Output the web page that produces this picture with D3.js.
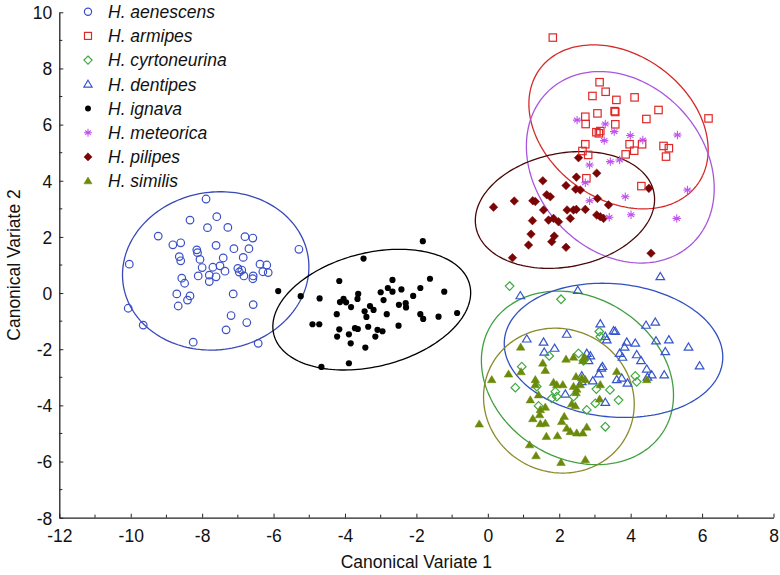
<!DOCTYPE html>
<html><head><meta charset="utf-8">
<script src="https://cdn.jsdelivr.net/npm/d3@7"></script>
<style>body{margin:0;background:#fff}svg{display:block}text{font-family:"Liberation Sans",Arial,sans-serif}</style>
</head><body><svg id="c" width="780" height="575"></svg>
<script>
const species = ["H. aenescens","H. armipes","H. cyrtoneurina","H. dentipes","H. ignava","H. meteorica","H. pilipes","H. similis"];
const xTicks = [-12,-10,-8,-6,-4,-2,0,2,4,6,8];
const yTicks = [-8,-6,-4,-2,0,2,4,6,8,10];
const xTitle = "Canonical Variate 1";
const yTitle = "Canonical Variate 2";

const aenescens = [[-7.89,3.35],[-7.59,2.72],[-8.34,2.60],[-7.85,2.33],[-7.28,2.34],[-9.23,2.03],[-8.82,1.72],[-8.60,1.79],[-6.80,2.01],[-6.58,1.96],[-7.61,1.70],[-7.11,1.58],[-6.69,1.58],[-5.29,1.56],[-8.15,1.54],[-8.13,1.44],[-8.64,1.30],[-8.60,1.15],[-8.06,1.20],[-7.41,1.25],[-6.85,1.27],[-10.04,1.03],[-7.50,0.97],[-6.38,1.03],[-6.19,1.00],[-6.15,0.73],[-6.30,0.76],[-8.00,0.91],[-7.70,0.92],[-7.00,0.88],[-6.89,0.82],[-6.96,0.75],[-7.36,0.78],[-7.80,0.64],[-7.61,0.58],[-7.80,0.41],[-8.11,0.61],[-6.83,0.61],[-6.57,0.61],[-6.58,0.51],[-8.57,0.53],[-8.49,0.35],[-8.71,-0.03],[-8.34,-0.10],[-8.41,-0.25],[-8.67,-0.46],[-7.13,-0.03],[-6.57,-0.41],[-10.07,-0.54],[-7.19,-0.80],[-6.75,-1.05],[-9.65,-1.14],[-7.33,-1.31],[-8.25,-1.75],[-6.43,-1.79]];
const armipes = [[1.82,9.10],[3.13,7.51],[3.30,7.17],[2.93,7.02],[3.60,6.88],[4.11,6.97],[4.78,6.52],[3.55,6.48],[3.57,6.45],[3.07,6.40],[4.44,6.20],[6.18,6.22],[2.73,6.28],[2.74,6.02],[3.57,6.01],[3.04,5.73],[3.15,5.77],[3.11,5.69],[2.73,5.30],[3.97,5.30],[4.32,5.30],[4.10,5.07],[3.86,4.94],[4.92,5.24],[5.07,5.16],[4.99,4.86],[2.65,5.06],[2.81,4.92],[2.76,4.09],[4.30,3.81]];
const cyrtoneurina = [[0.61,0.25],[2.05,-0.22],[3.12,-1.37],[3.15,-1.55],[1.72,-2.24],[2.54,-2.15],[2.68,-2.41],[0.95,-2.62],[0.77,-3.37],[1.37,-3.33],[4.13,-2.95],[4.17,-3.16],[3.04,-3.42],[3.42,-3.45],[3.66,-3.81],[1.89,-3.51],[1.79,-3.75],[1.93,-3.69],[2.40,-3.69],[3.01,-3.93],[1.42,-4.02],[2.77,-4.16],[3.29,-4.76]];
const dentipes = [[4.83,0.58],[0.91,-0.10],[2.52,0.09],[3.15,-1.10],[3.52,-1.35],[3.57,-1.37],[4.43,-1.15],[4.69,-1.04],[3.29,-1.55],[3.33,-1.67],[2.21,-1.47],[1.09,-1.64],[1.56,-1.75],[1.87,-1.97],[1.58,-2.11],[3.89,-1.75],[4.13,-1.79],[3.83,-1.93],[3.77,-2.29],[4.71,-1.71],[5.07,-1.67],[4.97,-2.09],[5.62,-1.93],[5.93,-2.60],[3.69,-2.15],[4.17,-2.20],[4.29,-2.41],[2.77,-2.15],[2.87,-2.24],[2.82,-2.41],[3.18,-2.68],[3.21,-2.62],[3.11,-2.88],[2.63,-2.95],[2.94,-3.13],[2.63,-3.16],[3.61,-3.09],[3.75,-3.03],[3.91,-3.21],[4.45,-2.71],[4.59,-2.92],[4.47,-3.00],[4.94,-2.92],[2.17,-3.60],[3.29,-3.90]];
const ignava = [[-1.82,1.85],[-3.48,1.23],[-4.16,0.43],[-2.67,0.47],[-1.62,0.51],[-5.87,0.07],[-5.24,-0.11],[-4.71,-0.19],[-3.63,-0.03],[-3.65,-0.21],[-3.00,0.03],[-2.80,0.18],[-2.67,0.05],[-2.42,0.13],[-1.89,0.18],[-1.22,0.05],[-2.09,-0.10],[-2.92,-0.25],[-4.04,-0.21],[-4.14,-0.32],[-3.97,-0.33],[-3.83,-0.50],[-3.30,-0.46],[-3.20,-0.60],[-2.49,-0.42],[-2.30,-0.36],[-2.29,-0.51],[-4.23,-0.75],[-3.45,-0.65],[-3.40,-0.85],[-2.83,-0.75],[-1.89,-0.75],[-1.81,-0.92],[-1.38,-0.84],[-0.86,-0.71],[-4.91,-1.11],[-4.72,-1.11],[-3.35,-1.20],[-2.50,-1.16],[-4.16,-1.29],[-4.22,-1.55],[-3.72,-1.25],[-3.64,-1.28],[-3.89,-1.47],[-3.09,-1.31],[-2.95,-1.36],[-3.15,-1.55],[-3.84,-1.79],[-3.43,-1.94],[-4.66,-2.63],[-3.89,-2.50]];
const meteorica = [[2.50,6.16],[3.29,6.02],[3.54,5.75],[3.26,5.43],[3.99,5.61],[4.34,5.45],[5.31,5.63],[2.85,4.56],[3.43,4.68],[3.69,4.74],[2.73,3.93],[3.85,3.43],[5.59,3.67],[2.85,3.29],[4.01,2.79],[3.40,2.70],[5.29,2.66]];
const pilipes = [[2.54,4.82],[3.05,4.27],[1.54,4.00],[2.48,4.13],[2.19,3.83],[2.46,3.70],[2.59,3.67],[4.51,3.73],[1.65,3.50],[1.75,3.43],[0.74,3.28],[1.26,3.29],[1.33,3.26],[3.07,3.37],[0.16,3.06],[3.38,3.14],[1.56,2.96],[2.22,2.96],[2.40,2.96],[2.48,2.98],[2.73,2.98],[3.05,2.78],[3.15,2.72],[3.24,2.66],[2.31,2.66],[1.25,2.58],[1.70,2.60],[1.84,2.66],[1.98,2.54],[1.21,2.10],[1.86,2.03],[1.79,1.83],[1.14,1.71],[2.19,1.63],[0.69,1.26],[4.57,1.42]];
const similis = [[0.92,-1.93],[2.19,-2.36],[2.40,-2.29],[2.71,-2.29],[2.66,-2.41],[1.54,-2.50],[1.61,-2.76],[0.11,-3.09],[0.58,-2.89],[0.93,-2.81],[1.33,-3.09],[1.33,-3.27],[1.42,-3.63],[1.84,-3.19],[1.93,-3.27],[2.10,-3.27],[2.47,-2.98],[2.63,-3.03],[2.73,-3.09],[2.40,-3.33],[2.49,-3.43],[2.59,-3.27],[2.47,-3.55],[3.15,-3.27],[3.13,-3.78],[3.61,-2.80],[4.45,-3.09],[1.19,-3.81],[2.35,-3.95],[2.45,-4.02],[1.47,-4.16],[1.61,-4.07],[1.45,-4.34],[2.14,-4.40],[2.07,-4.58],[1.26,-4.48],[1.47,-4.66],[1.61,-4.64],[2.21,-4.82],[2.31,-4.94],[2.49,-4.99],[2.66,-4.99],[2.77,-4.78],[-0.24,-4.67],[1.64,-5.11],[1.95,-5.09],[1.17,-5.41],[1.35,-5.80],[2.05,-6.04],[2.73,-5.94]];

// confidence ellipses: [centerX, centerY, halfWidth, halfHeight, correlation]
const ellipses = [
  [-7.62, 0.79, 2.61, 2.82, 0.05],
  [3.66, 5.92, 2.51, 2.92, -0.28],
  [2.51, -3.02, 2.69, 3.09, -0.20],
  [3.52, -2.04, 3.06, 2.39, -0.10],
  [-3.25, -0.59, 2.77, 2.15, 0.28],
  [3.71, 4.48, 2.63, 3.41, -0.22],
  [2.16, 2.96, 2.51, 2.08, 0.18],
  [1.99, -3.83, 2.11, 2.58, -0.05]
];

const seriesData = [aenescens, armipes, cyrtoneurina, dentipes, ignava, meteorica, pilipes, similis];
const markerColor = ["#3a4fc8","#e02828","#3fa83f","#3555cc","#000000","#c055ee","#7a0505","#6b8a0a"];
const ellipseColor = ["#3848b8","#d42a2a","#3f9f3f","#3050c0","#000000","#a855dd","#4a0808","#8a8a2a"];
const shapes = ["circle","square","diamond","triangle","dot","asterisk","fdiamond","ftriangle"];

const svg = d3.select("#c");
const x = d3.scaleLinear().domain([-12, 8]).range([59.3, 773.5]);
const y = d3.scaleLinear().domain([-8, 10]).range([517.7, 12.3]);

const fmt = d => d3.format("d")(d).replace("\u2212","-");
const xAxis = d3.axisBottom(x).tickValues(xTicks).tickSizeInner(-4).tickSizeOuter(0).tickPadding(13.5).tickFormat(fmt);
const yAxis = d3.axisLeft(y).tickValues(yTicks).tickSizeInner(-4).tickSizeOuter(0).tickPadding(7).tickFormat(fmt);
const gx = svg.append("g").attr("transform", `translate(0,${y(-8)})`).call(xAxis);
const gy = svg.append("g").attr("transform", `translate(${x(-12)},0)`).call(yAxis);
const minorX = d3.range(-11, 8, 2), minorY = d3.range(-7, 10, 2);
gx.selectAll(".mn").data(minorX).join("line").attr("x1", d=>x(d)).attr("x2", d=>x(d)).attr("y1",0).attr("y2",-3).attr("stroke","#222");
gy.selectAll(".mn").data(minorY).join("line").attr("y1", d=>y(d)).attr("y2", d=>y(d)).attr("x1",0).attr("x2",3).attr("stroke","#222");
[gx, gy].forEach(g => {
  g.select(".domain").attr("stroke","#222").attr("stroke-width",1.3);
  g.selectAll(".tick line").attr("stroke","#222");
  g.selectAll(".tick text").attr("font-size","17.5px").attr("fill","#111").style("font-family",'"Liberation Sans",Arial,sans-serif');
});
gx.selectAll(".tick text").attr("dy","0.6em");
gy.selectAll(".tick text").attr("dy","0.36em");

svg.append("text").attr("x", (x(-12)+x(8))/2).attr("y", 568).attr("text-anchor","middle").attr("font-size","17.5px").attr("fill","#111").text(xTitle);
svg.append("text").attr("transform", `translate(20,${(y(-8)+y(10))/2}) rotate(-90)`).attr("text-anchor","middle").attr("font-size","17.5px").attr("fill","#111").text(yTitle);

const ell = d3.line().x(d=>x(d[0])).y(d=>y(d[1]));
ellipses.forEach((e, i) => {
  const [cx, cy, hx, hy, r] = e;
  const s = Math.sqrt(1 - r*r);
  const pts = d3.range(0, 361, 2).map(a => {
    const t = a * Math.PI / 180;
    return [cx + hx*Math.cos(t), cy + hy*(r*Math.cos(t) + s*Math.sin(t))];
  });
  svg.append("path").attr("d", ell(pts)).attr("fill","none").attr("stroke", ellipseColor[i]).attr("stroke-width",1.3);
});

function drawMarker(g, shape, color, px, py, scale) {
  const k = scale || 1;
  if (shape === "circle") g.append("circle").attr("cx",px).attr("cy",py).attr("r",3.8*k).attr("fill","none").attr("stroke",color).attr("stroke-width",1.2);
  else if (shape === "dot") g.append("circle").attr("cx",px).attr("cy",py).attr("r",3.1*k).attr("fill",color);
  else if (shape === "square") g.append("rect").attr("x",px-3.7*k).attr("y",py-3.7*k).attr("width",7.4*k).attr("height",7.4*k).attr("fill","none").attr("stroke",color).attr("stroke-width",1.2);
  else if (shape === "diamond" || shape === "fdiamond") {
    const h = 4.3*k;
    g.append("path").attr("d",`M${px},${py-h}L${px+h},${py}L${px},${py+h}L${px-h},${py}Z`)
      .attr("fill", shape==="fdiamond"?color:"none").attr("stroke",color).attr("stroke-width", shape==="fdiamond"?0.5:1.2);
  } else if (shape === "triangle" || shape === "ftriangle") {
    const w = 4.3*k, h = 7.2*k;
    g.append("path").attr("d",`M${px},${py-h*0.6}L${px+w},${py+h*0.4}L${px-w},${py+h*0.4}Z`)
      .attr("fill", shape==="ftriangle"?color:"none").attr("stroke",color).attr("stroke-width", shape==="ftriangle"?0.5:1.2);
  } else if (shape === "asterisk") {
    const a = 4.2*k, d = a*0.75;
    g.append("path").attr("d",`M${px},${py-a}L${px},${py+a}M${px-d},${py-a*0.55}L${px+d},${py+a*0.55}M${px-d},${py+a*0.55}L${px+d},${py-a*0.55}M${px-a},${py}L${px+a},${py}`)
      .attr("stroke",color).attr("stroke-width",1.1).attr("fill","none");
  }
}
const order = [0,4,6,1,5,3,2,7];
order.forEach(i => {
  const g = svg.append("g");
  seriesData[i].forEach(p => drawMarker(g, shapes[i], markerColor[i], x(p[0]), y(p[1])));
});

const lg = svg.append("g");
species.forEach((name, i) => {
  const cy = 11.7 + i*24.2;
  drawMarker(lg, shapes[i], markerColor[i], 88, cy, 0.95);
  lg.append("text").attr("x",108).attr("y",cy).attr("dy","0.36em").attr("font-size","17.5px").attr("font-style","italic").attr("fill","#111").text(name);
});
</script></body></html>
